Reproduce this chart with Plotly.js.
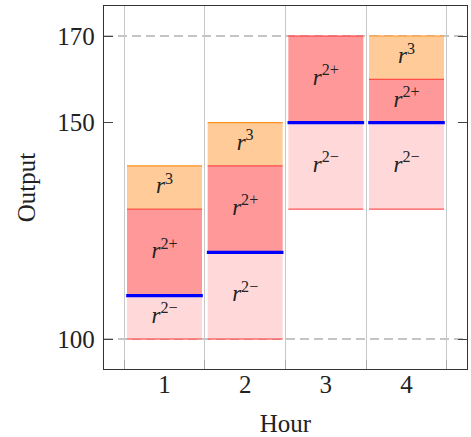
<!DOCTYPE html>
<html><head><meta charset="utf-8">
<script src="https://cdn.plot.ly/plotly-3.0.1.min.js"></script>
<style>html,body{margin:0;padding:0;background:#fff}</style>
</head><body><div id="chart" style="width:471px;height:437px"></div>
<script>
// ---- data ----
const hours = [1, 2, 3, 4];
const r2MinusLow = [100, 100, 130, 130];   // bottom of r2−
const baseLevel = [110, 120, 150, 150];    // blue line: top of r2−, bottom of r2+
const r2PlusHigh = [130, 140, 170, 160];   // top of r2+
const r3High = [140, 150, null, 170];      // top of r3
const yTickVals = [100, 150, 170];
const dashedLevels = [100, 170];
const labelR2Minus = '<i>r</i><sup>2−</sup>';
const labelR2Plus = '<i>r</i><sup>2+</sup>';
const labelR3 = '<i>r</i><sup>3</sup>';

// ---- style ----
const FONT = '"Liberation Serif", "DejaVu Serif", serif';
const BAR_W = 0.93;
const col = {
  r2m: '#FFD9D9', r2p: '#FF9999', r3: '#FFCC99',
  red: '#FF3030', orange: '#FF9020', blue: '#0000FF'
};

function diff(a, b) { return a.map((v, i) => (v == null || b[i] == null) ? null : v - b[i]); }
function mid(a, b) { return a.map((v, i) => (v == null || b[i] == null) ? null : (v + b[i]) / 2); }
function segs(levels, half) {
  const x = [], y = [];
  levels.forEach((v, i) => {
    if (v == null) return;
    x.push(hours[i] - half, hours[i] + half, null);
    y.push(v, v, null);
  });
  return {x, y};
}
function bar(base, top, color) {
  return {type: 'bar', x: hours, base: base, y: diff(top, base), width: BAR_W,
    marker: {color: color, line: {width: 0}}, hoverinfo: 'skip', showlegend: false};
}
function edge(levels, color, width, half) {
  const s = segs(levels, half);
  return {type: 'scatter', mode: 'lines', x: s.x, y: s.y, line: {color: color, width: width},
    hoverinfo: 'skip', showlegend: false, cliponaxis: false};
}
function labels(low, high, txt) {
  const y = mid(low, high);
  const xs = [], ys = [], ts = [];
  y.forEach((v, i) => { if (v != null) { xs.push(hours[i]); ys.push(v); ts.push(txt); } });
  return {type: 'scatter', mode: 'text', x: xs, y: ys, text: ts,
    textfont: {family: FONT, size: 23, color: '#222'}, hoverinfo: 'skip', showlegend: false};
}

const traces = [
  bar(r2MinusLow, baseLevel, col.r2m),
  bar(baseLevel, r2PlusHigh, col.r2p),
  bar(r2PlusHigh, r3High, col.r3),
  edge(r2MinusLow, col.red, 1, BAR_W / 2),
  edge(r2PlusHigh, col.red, 1, BAR_W / 2),
  edge(r3High, col.orange, 1.2, BAR_W / 2),
  edge(baseLevel, col.blue, 3.2, BAR_W / 2 + 0.01),
  labels(r2MinusLow, baseLevel, labelR2Minus),
  labels(baseLevel, r2PlusHigh, labelR2Plus),
  labels(r2PlusHigh, r3High, labelR3)
];

const layout = {
  width: 471, height: 437,
  margin: {l: 104, r: 4, t: 6, b: 68},
  paper_bgcolor: '#fff', plot_bgcolor: '#fff',
  barmode: 'overlay',
  font: {family: FONT, size: 25, color: '#222'},
  xaxis: {
    range: [0.25, 4.75], tickvals: hours, ticktext: hours.map(String),
    ticks: '', showgrid: false, zeroline: false,
    showline: true, linecolor: '#333', linewidth: 1.2, mirror: true,
    minor: {tick0: 0.5, dtick: 1, showgrid: true, gridcolor: '#c8c8c8', gridwidth: 1,
            ticks: 'inside', ticklen: 9, tickcolor: '#aaa', tickwidth: 1},
    ticklabelstandoff: -7,
    tickfont: {family: FONT, size: 25, color: '#222'},
    title: {text: 'Hour', font: {family: FONT, size: 25, color: '#222'}, standoff: 17}
  },
  yaxis: {
    range: [93.07, 176.93], tickvals: yTickVals, ticktext: yTickVals.map(String),
    ticks: 'inside', ticklen: 9, tickcolor: '#444', tickwidth: 1,
    showgrid: false, zeroline: false,
    showline: true, linecolor: '#333', linewidth: 1.2, mirror: 'ticks',
    ticklabelstandoff: 3,
    tickfont: {family: FONT, size: 25, color: '#222'},
    title: {text: 'Output', font: {family: FONT, size: 25, color: '#222'}, standoff: 14}
  },
  shapes: dashedLevels.map(v => ({type: 'line', xref: 'paper', x0: 0, x1: 1, yref: 'y', y0: v, y1: v,
    line: {color: '#8a8a8a', width: 1, dash: '9px,5px'}, layer: 'below'}))
};

Plotly.newPlot('chart', traces, layout, {displayModeBar: false, staticPlot: true});
</script>
</body></html>
